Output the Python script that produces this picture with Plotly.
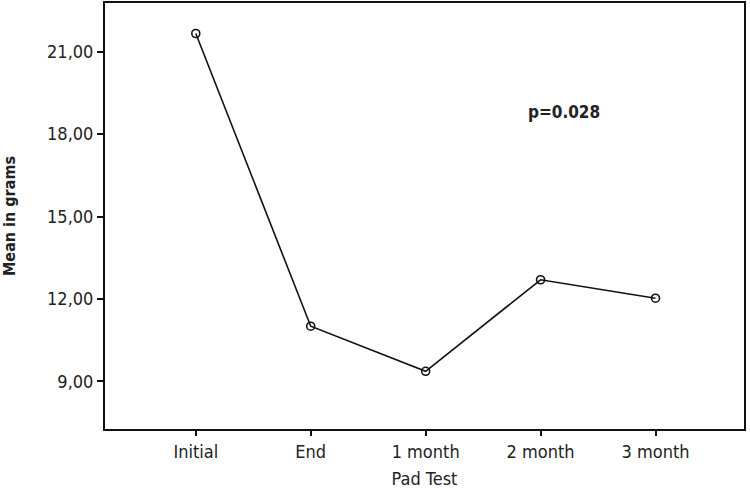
import plotly.graph_objects as go

categories = ["Initial", "End", "1 month", "2 month", "3 month"]
means = [21.66, 11.01, 9.37, 12.70, 12.03]
y_ticks = [9, 12, 15, 18, 21]
y_tick_labels = ["9,00", "12,00", "15,00", "18,00", "21,00"]

FONT = "DejaVu Sans Condensed, Liberation Sans Narrow, Arial Narrow, sans-serif"

fig = go.Figure()
fig.add_trace(go.Scatter(
    x=list(range(len(categories))), y=means, mode="lines+markers",
    line=dict(color="#111", width=1.6),
    marker=dict(symbol="circle-open", size=8, color="#111", line=dict(width=1.6)),
    showlegend=False,
))

fig.add_annotation(text="<b>p=0.028</b>", x=0.718, xref="paper", y=18.8, yref="y",
                   xanchor="center", yanchor="middle",
                   showarrow=False, font=dict(family=FONT, size=17, color="#222"))

fig.update_layout(
    width=750, height=489,
    margin=dict(l=105, r=6, t=3, b=60),
    paper_bgcolor="white", plot_bgcolor="white",
    font=dict(family=FONT, size=18, color="#222"),
    xaxis=dict(
        range=[-0.79, 4.77], tickvals=list(range(len(categories))), ticktext=categories,
        showgrid=False, zeroline=False, showline=True, linecolor="#111", linewidth=2,
        mirror=True, ticks="outside", ticklen=5, tickwidth=1.5, tickcolor="#111",
        automargin=False,
        title=dict(text="Pad Test", font=dict(family=FONT, size=18), standoff=13),
    ),
    yaxis=dict(
        range=[7.27, 22.77], tickvals=y_ticks, ticktext=y_tick_labels,
        showgrid=False, zeroline=False, showline=True, linecolor="#111", linewidth=2,
        mirror=True, ticks="outside", ticklen=6, tickwidth=1.5, tickcolor="#111",
        automargin=False,
        title=dict(text="<b>Mean in grams</b>", font=dict(family=FONT, size=16), standoff=28),
    ),
)

fig.write_html("out.html", config={"displayModeBar": False},
               post_script="document.body.style.margin='0';")
